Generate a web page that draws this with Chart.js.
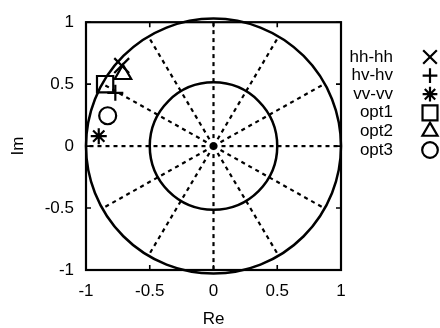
<!DOCTYPE html>
<html>
<head>
<meta charset="utf-8">
<script src="https://cdn.jsdelivr.net/npm/chart.js@4/dist/chart.umd.min.js"></script>
<style>
  html, body { margin: 0; padding: 0; background: #fff; }
  #wrap { width: 440px; height: 328px; }
</style>
</head>
<body>
<div id="wrap"><canvas id="polar-chart" width="440" height="328"></canvas></div>
<script>
// series (one point each)
const seriesLabels = ['hh-hh', 'hv-hv', 'vv-vv', 'opt1', 'opt2', 'opt3'];
const reValues = [-0.72, -0.77, -0.90, -0.85, -0.71, -0.83];
const imValues = [0.65, 0.43, 0.08, 0.50, 0.58, 0.245];
const markerStyles = ['crossRot', 'cross', 'star', 'rect', 'triangle', 'circle'];
const markerRadius = [10.5, 8, 8, 11.5, 9.5, 8.5];

// axes and the chart grid
const tickValues = [-1, -0.5, 0, 0.5, 1];
const tickLabels = ['-1', '-0.5', '0', '0.5', '1'];
const circleRadii = [0.5, 1];
const spokeAngles = [0, 30, 60, 90, 120, 150, 180, 210, 240, 270, 300, 330];

const ink = '#000';
const fontFamily = "'Liberation Sans', Arial, sans-serif";

const datasets = seriesLabels.map((label, i) => ({
  label: label,
  data: [{ x: reValues[i], y: imValues[i] }],
  pointStyle: markerStyles[i],
  pointRadius: markerRadius[i],
  pointHoverRadius: markerRadius[i],
  borderColor: ink,
  backgroundColor: 'rgba(0,0,0,0)',
  pointBorderWidth: 2.2,
  showLine: false
}));

const tickLabel = (value) => {
  const i = tickValues.indexOf(value);
  return i >= 0 ? tickLabels[i] : '';
};

const gridPlugin = {
  id: 'circleGrid',
  beforeDatasetsDraw(chart) {
    const { ctx, scales: { x, y } } = chart;
    const cx = x.getPixelForValue(0);
    const cy = y.getPixelForValue(0);
    const unit = x.getPixelForValue(1) - cx;

    ctx.save();
    ctx.strokeStyle = ink;

    // dotted spokes
    ctx.lineWidth = 2.2;
    ctx.setLineDash([4, 4]);
    spokeAngles.forEach(a => {
      const rad = a * Math.PI / 180;
      ctx.beginPath();
      ctx.moveTo(cx, cy);
      ctx.lineTo(x.getPixelForValue(Math.cos(rad)), y.getPixelForValue(Math.sin(rad)));
      ctx.stroke();
    });
    ctx.setLineDash([]);

    // circles
    ctx.lineWidth = 2.5;
    circleRadii.forEach(r => {
      ctx.beginPath();
      ctx.arc(cx, cy, r * unit, 0, Math.PI * 2);
      ctx.stroke();
    });

    // centre dot
    ctx.fillStyle = ink;
    ctx.beginPath();
    ctx.arc(cx, cy, 3, 0, Math.PI * 2);
    ctx.fill();

    // frame and inward ticks on all four sides
    const area = chart.chartArea;
    ctx.lineWidth = 2.2;
    ctx.strokeRect(area.left, area.top, area.right - area.left, area.bottom - area.top);
    ctx.lineWidth = 1.6;
    tickValues.forEach(v => {
      const px = x.getPixelForValue(v);
      const py = y.getPixelForValue(v);
      ctx.beginPath();
      ctx.moveTo(px, area.bottom); ctx.lineTo(px, area.bottom - 5);
      ctx.moveTo(px, area.top); ctx.lineTo(px, area.top + 5);
      ctx.moveTo(area.left, py); ctx.lineTo(area.left + 5, py);
      ctx.moveTo(area.right, py); ctx.lineTo(area.right - 5, py);
      ctx.stroke();
    });
    ctx.restore();
  }
};

const legendPlugin = {
  id: 'sideLegend',
  afterDraw(chart) {
    const { ctx } = chart;
    ctx.save();
    ctx.font = '17px ' + fontFamily;
    ctx.textAlign = 'right';
    ctx.textBaseline = 'middle';
    chart.data.datasets.forEach((ds, i) => {
      const rowY = 57 + i * 18.6;
      ctx.fillStyle = ink;
      ctx.fillText(ds.label, 393, rowY);
      ctx.fillStyle = 'rgba(0,0,0,0)';
      ctx.strokeStyle = ink;
      ctx.lineWidth = 2.2;
      Chart.helpers.drawPoint(ctx, {
        pointStyle: ds.pointStyle,
        radius: ds.pointRadius * 0.92,
        rotation: 0,
        borderWidth: 2.2
      }, 430, rowY);
    });
    ctx.restore();
  }
};

const ctx = document.getElementById('polar-chart').getContext('2d');
window.chart = new Chart(ctx, {
  type: 'scatter',
  data: { datasets: datasets },
  plugins: [gridPlugin, legendPlugin],
  options: {
    responsive: false,
    animation: false,
    layout: { padding: { top: 15, right: 99, left: 0, bottom: 0 } },
    plugins: { legend: { display: false }, tooltip: { enabled: false } },
    scales: {
      x: {
        type: 'linear',
        min: -1,
        max: 1,
        afterBuildTicks: (scale) => { scale.ticks = tickValues.map(v => ({ value: v })); },
        afterFit: (scale) => { scale.height = 58; },
        grid: { display: false, drawTicks: false },
        border: { display: false },
        ticks: { color: ink, padding: 11, maxRotation: 0, callback: tickLabel, font: { family: fontFamily, size: 17 } },
        title: { display: true, text: 'Re', color: ink, padding: 0, font: { family: fontFamily, size: 17, lineHeight: 1 } }
      },
      y: {
        type: 'linear',
        min: -1,
        max: 1,
        afterBuildTicks: (scale) => { scale.ticks = tickValues.map(v => ({ value: v })); },
        afterFit: (scale) => { scale.width = 86; },
        grid: { display: false, drawTicks: false },
        border: { display: false },
        ticks: { color: ink, padding: 12, callback: tickLabel, font: { family: fontFamily, size: 17 } },
        title: { display: true, text: 'Im', color: ink, padding: 8, font: { family: fontFamily, size: 17 } }
      }
    }
  }
});
</script>
</body>
</html>
